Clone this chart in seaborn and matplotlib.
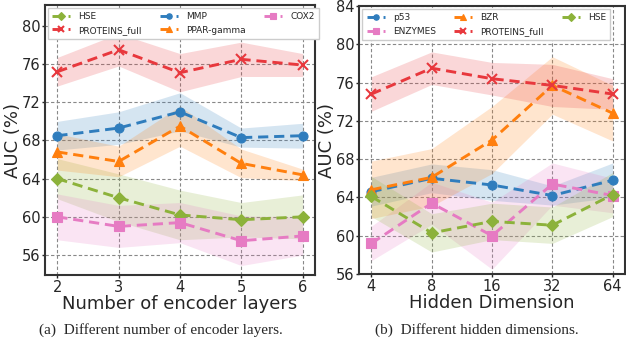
import numpy as np
import pandas as pd
import matplotlib
matplotlib.use("Agg")
import matplotlib.pyplot as plt
import seaborn as sns

sns.set_style("white")
plt.rcParams['font.family'] = ['DejaVu Sans']

# (a) number of encoder layers
layers = [2, 3, 4, 5, 6]
hse_a = [64.0, 62.0, 60.2, 59.7, 60.0]
hse_a_err = [2.1, 2.5, 2.6, 1.8, 2.3]
prot_a = [75.2, 77.5, 75.1, 76.5, 75.9]
prot_a_err = [1.5, 1.7, 2.0, 1.8, 1.2]
mmp_a = [68.5, 69.3, 71.0, 68.3, 68.5]
mmp_a_err = [1.5, 1.7, 2.0, 1.0, 1.3]
ppar_a = [66.8, 65.8, 69.5, 65.6, 64.4]
ppar_a_err = [1.9, 1.6, 2.1, 1.5, 0.6]
cox2_a = [60.0, 59.0, 59.4, 57.5, 58.0]
cox2_a_err = [2.4, 2.2, 2.1, 2.6, 2.0]

# (b) hidden dimension
dims = ['4', '8', '16', '32', '64']
p53_b = [64.6, 66.0, 65.3, 64.2, 65.8]
p53_b_err = [1.5, 1.5, 1.6, 1.0, 1.8]
enz_b = [59.2, 63.4, 60.0, 65.4, 64.2]
enz_b_err = [1.8, 2.2, 3.5, 2.2, 1.8]
bzr_b = [64.8, 66.1, 70.0, 75.7, 72.8]
bzr_b_err = [3.0, 3.0, 3.5, 3.0, 2.9]
prot_b = [74.8, 77.5, 76.4, 75.7, 74.8]
prot_b_err = [1.8, 1.7, 1.7, 2.2, 1.6]
hse_b = [64.1, 60.3, 61.5, 61.1, 64.3]
hse_b_err = [2.1, 2.0, 1.9, 1.9, 2.3]

colors = {'HSE': '#8cb23a', 'PROTEINS_full': '#e8383d', 'MMP': '#2f7dbd',
          'PPAR-gamma': '#ff7f0e', 'COX2': '#e67bc3', 'p53': '#2f7dbd',
          'BZR': '#ff7f0e', 'ENZYMES': '#e67bc3'}
markers = {'HSE': 'D', 'PROTEINS_full': 'x', 'MMP': 'o', 'PPAR-gamma': '^',
           'COX2': 's', 'p53': 'o', 'BZR': '^', 'ENZYMES': 's'}

fig = plt.figure(figsize=(6.26, 3.5), dpi=100)
ax1 = fig.add_axes([0.072, 0.214, 0.431, 0.772])
ax2 = fig.add_axes([0.574, 0.217, 0.424, 0.766])


def draw(ax, x, series):
    pos = np.arange(len(x))
    for name, y, err in series:
        c = colors[name]
        y = np.array(y)
        err = np.array(err)
        ax.fill_between(pos, y - err, y + err, color=c, alpha=0.2, linewidth=0)
        df = pd.DataFrame({'x': pos, 'y': y})
        sns.lineplot(data=df, x='x', y='y', ax=ax, color=c, label=name,
                     linestyle=(0, (3.5, 2)), linewidth=2.1, marker=markers[name],
                     markersize=6.5,
                     markeredgewidth=1.5 if markers[name] == 'x' else 0.8,
                     markeredgecolor=c)
    ax.set_xticks(pos)
    ax.set_xticklabels(x)
    ax.set_xlim(-0.2, len(x) - 0.8)
    ax.grid(True, linestyle=(0, (3, 2)), color='#888888', linewidth=0.8)
    for s in ax.spines.values():
        s.set_linewidth(1.5)
        s.set_color('#333333')
    ax.tick_params(axis='both', labelsize=10.5, length=2, width=1, pad=1.5,
                   direction='out', left=True, bottom=True)
    ax.set_ylabel('AUC (%)', fontsize=13, labelpad=-0.5)
    ax.legend(loc='upper left', ncol=3, fontsize=6.5, frameon=True, handlelength=2.0,
              borderaxespad=0.3, columnspacing=2.0, handletextpad=0.9,
              labelspacing=0.5, borderpad=0.5, fancybox=False, markerscale=0.6,
              edgecolor='#cccccc', framealpha=1)


draw(ax1, [str(v) for v in layers], [
    ('HSE', hse_a, hse_a_err),
    ('PROTEINS_full', prot_a, prot_a_err),
    ('MMP', mmp_a, mmp_a_err),
    ('PPAR-gamma', ppar_a, ppar_a_err),
    ('COX2', cox2_a, cox2_a_err),
])
ax1.set_ylim(53.9, 82.2)
ax1.set_yticks([56, 60, 64, 68, 72, 76, 80])
ax1.set_xlabel('Number of encoder layers', fontsize=13, labelpad=0)

draw(ax2, dims, [
    ('p53', p53_b, p53_b_err),
    ('ENZYMES', enz_b, enz_b_err),
    ('BZR', bzr_b, bzr_b_err),
    ('PROTEINS_full', prot_b, prot_b_err),
    ('HSE', hse_b, hse_b_err),
])
ax2.set_ylim(56, 84)
ax2.set_yticks([56, 60, 64, 68, 72, 76, 80, 84])
ax2.set_xlabel('Hidden Dimension', fontsize=13, labelpad=0)

fig.text(0.257, 0.058, '(a)  Different number of encoder layers.', ha='center', va='center',
         fontsize=11, family='Liberation Serif')
fig.text(0.762, 0.058, '(b)  Different hidden dimensions.', ha='center', va='center',
         fontsize=11, family='Liberation Serif')

fig.savefig('out.png', dpi=100)
